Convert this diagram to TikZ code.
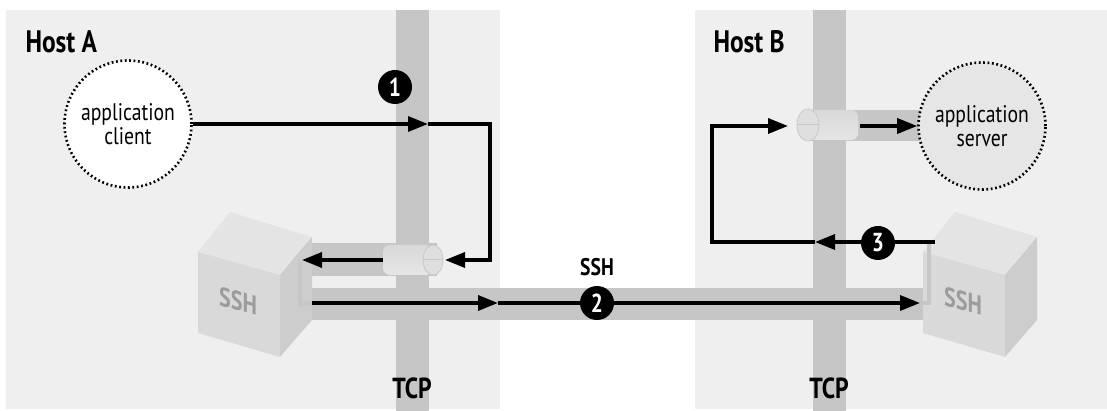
\documentclass[tikz,border=0pt]{standalone}
\usepackage{fontspec}
\usepackage{tikz}
\usepackage{tkz-euclide}
\usetikzlibrary{arrows.meta}
\newfontfamily\labfont{PT Sans}[FakeStretch=0.82]
\definecolor{hostbg}{HTML}{EFEFEF}
\definecolor{pipe}{HTML}{C6C6C6}
\definecolor{boxtop}{HTML}{E4E4E4}
\definecolor{boxfront}{HTML}{D9D9D9}
\definecolor{boxside}{HTML}{CDCDCD}
\definecolor{boxtext}{HTML}{9C9C9C}
\definecolor{servbg}{HTML}{E6E6E6}

\begin{document}
\begin{tikzpicture}[x=1pt,y=-1pt,
    flow/.style={line width=3.4pt, black, -{Triangle[length=20pt,width=15pt]}},
    app/.style={circle, draw=black, fill=white, line width=2.6pt,
      dash pattern=on 1.8pt off 2.6pt, minimum size=127pt, inner sep=0pt,
      align=center, font=\labfont\fontsize{24}{24}\selectfont},
    num/.style={circle, fill=black, text=white, minimum size=34pt, inner sep=0pt,
      font=\labfont\bfseries\fontsize{26}{26}\selectfont},
    hostlbl/.style={font=\labfont\bfseries\fontsize{31}{31}\selectfont, anchor=west},
    tcplbl/.style={font=\labfont\bfseries\fontsize{29}{29}\selectfont},
    boxlbl/.style={font=\labfont\bfseries\fontsize{27}{27}\selectfont, text=boxtext, yslant=-0.28, inner sep=0pt},
    strip/.style={line width=4pt, gray!45}]
                        \useasboundingbox (0,0) rectangle (1107,411);

                        % hosts and tcp
                        \fill[hostbg] (6,10) rectangle (500,409);
                        \fill[hostbg] (695,10) rectangle (1107,409);
                        \fill[pipe] (396,10) rectangle (429,411);
                        \fill[pipe] (813,10) rectangle (846,411);

                        % pipes
                        \fill[pipe] (285,243) rectangle (437,276);
                        \fill[pipe] (285,288) rectangle (930,320);
                        \fill[pipe] (808,110) rectangle (925,141);

                        \tkzDefPoint(428,124){P1}
                        \tkzDefPoint(490,124){P2}
                        \tkzDefPoint(490,260){P3}
                        \tkzDefPoint(445,260){P4}
                        \tkzDefPoint(383,260){P5}
                        \tkzDefPoint(302,260){P6}

                        \tkzDefPoint(312,303){Q1}
                        \tkzDefPoint(498,303){Q2}
                        \tkzDefPoint(920,303){Q3}

                        \tkzDefPoint(935,242){R1}
                        \tkzDefPoint(815,242){R2}
                        \tkzDefPoint(712,242){R3}
                        \tkzDefPoint(712,126){R4}
                        \tkzDefPoint(788,126){R5}
                        \tkzDefPoint(860,126){R6}

                        % cylinders
                        \shade[top color=gray!30, middle color=white, bottom color=gray!20,
                          rounded corners=7pt] (383,245) rectangle (433,275);
                        \filldraw[fill=gray!25, draw=gray!40, line width=1pt] (433,260) ellipse [x radius=10, y radius=15];
                        \draw[gray!45, line width=1pt] (424,260) -- (442,260);

                        \shade[top color=gray!30, middle color=white, bottom color=gray!20,
                          rounded corners=7pt] (808,110) rectangle (858,140);
                        \filldraw[fill=gray!25, draw=gray!40, line width=1pt] (808,125) ellipse [x radius=11, y radius=16];
                        \draw[gray!45, line width=1pt] (798,125) -- (818,125);

                        % ssh boxes
                        \foreach \s in {0,725}{
                          \begin{scope}[xshift=\s]
                            \fill[boxtop] (198,252) -- (230,212) -- (312,237) -- (280,275) -- cycle;
                            \fill[boxfront] (198,252) -- (280,275) -- (280,357) -- (198,333) -- cycle;
                            \fill[boxside] (280,275) -- (312,237) -- (312,320) -- (280,357) -- cycle;
                          \end{scope}
                        }
                        \node[boxlbl] (sshA) at (238,301) {SSH};
                        \node[boxlbl] (sshB) at (963,301) {SSH};
                        \draw[strip] (300,262) -- (300,305) -- (Q1);
                        \draw[strip] (Q3) -- (929,303) -- (929,244);

                        % apps
                        \node[app] (client) at (128,124) {application\\client};
                        \node[app, fill=servbg] (server) at (982,126) {application\\server};

                        % flows
                        \draw[flow] (client.east) -- (P1);
                        \draw[flow] (P1) -- (P2) -- (P3) -- (P4);
                        \draw[flow] (P5) -- (P6);

                        \draw[flow] (Q1) -- (Q2);
                        \draw[flow] (Q2) -- (Q3);

                        \draw[flow] (R1) -- (R2);
                        \draw[flow] (R2) -- (R3) -- (R4) -- (R5);
                        \draw[flow] (R6) -- (server.west);

                        \node[num] (n1) at (395,87) {1};
                        \node[num] (n2) at (597,303) {2};
                        \node[num] (n3) at (878,243) {3};

                        % labels
                        \node[hostlbl] (hostA) at (22,42) {Host A};
                        \node[hostlbl] (hostB) at (710,42) {Host B};
                        \node[tcplbl] (tcpA) at (412,388) {TCP};
                        \node[tcplbl] (tcpB) at (829,388) {TCP};
                        \node[font=\labfont\bfseries\fontsize{24}{24}\selectfont] (tunnel) at (597,267) {SSH};
                    \end{tikzpicture}
\end{document}
